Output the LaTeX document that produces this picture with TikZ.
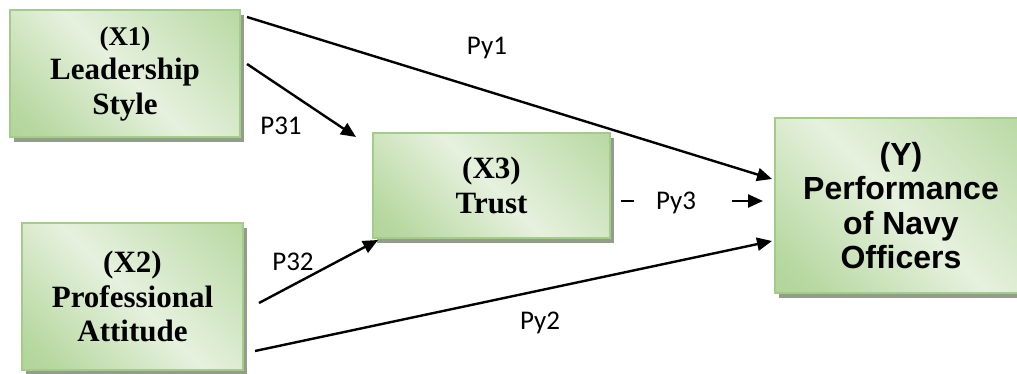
\documentclass[tikz,border=0pt]{standalone}
\usepackage{fontspec}
\usetikzlibrary{arrows.meta,calc,shadows}
\newfontfamily\boxserif{Liberation Serif}
\newfontfamily\boxsans{Liberation Sans}
\newfontfamily\pathfont{Carlito}
\definecolor{gdark}{HTML}{A4CE88}
\definecolor{glight}{HTML}{E6F1DE}
\definecolor{gborder}{HTML}{A2CC87}
\definecolor{gshadow}{HTML}{929D8B}
\pgfdeclarehorizontalshading{boxglow}{100bp}{color(0bp)=(gdark); color(22bp)=(gdark!70!glight); color(50bp)=(glight); color(78bp)=(gdark!55!glight); color(100bp)=(gdark)}
\tikzset{
  varbox/.style={draw=gborder, line width=2pt, shading=boxglow, shading angle=45,
    align=center, inner sep=0pt,
    general shadow={shadow xshift=4pt, shadow yshift=-5pt, fill=gshadow}},
  xlabel/.style={font=\boxserif\bfseries\fontsize{31}{34.5}\selectfont},
  ylabel/.style={font=\boxsans\bfseries\fontsize{32}{34.5}\selectfont},
  pathlbl/.style={font=\pathfont\fontsize{27}{30}\selectfont, inner sep=0pt},
  link/.style={line width=2.4pt, -{Triangle[length=15pt,width=13pt]}},
}
\begin{document}
\begin{tikzpicture}[x=1pt,y=-1pt]
\useasboundingbox (0,0) rectangle (1017,374);
\clip (0,0) rectangle (1017,374);

% variables
\node[varbox, xlabel, minimum width=230pt, minimum height=127pt] (X1) at (125,73.5)
  {{\fontsize{27}{30}\selectfont (X1)}\\Leadership\\Style};
\node[varbox, xlabel, minimum width=221pt, minimum height=147pt] (X2) at (132.5,296.5)
  {(X2)\\Professional\\Attitude};
\node[varbox, xlabel, minimum width=237pt, minimum height=105pt] (X3) at (491.5,185.5)
  {(X3)\\Trust};
\node[varbox, ylabel, minimum width=252pt, minimum height=175pt] (Y) at (901,205.5)
  {(Y)\\Performance\\of Navy\\Officers};

% paths
\draw[link] ($(X1.north east)+(6,8)$) -- ($(Y.north west)+(-2,62)$);
\draw[link] ($(X1.north east)+(6,55)$) -- ($(X3.north west)+(-16,5)$);
\draw[link] ($(X2.north east)+(15,81)$) -- ($(X3.south west)+(6,1)$);
\draw[link] ($(X2.south east)+(11,-20)$) -- ($(Y.south west)+(-2,-53)$);
\draw[line width=2.4pt] ($(X3.east)+(10,15.5)$) -- ($(X3.east)+(23,15.5)$);
\draw[link] ($(Y.west)+(-42,-4.5)$) -- ($(Y.west)+(-11,-4.5)$);

% path coefficients
\node[pathlbl] (py1) at (487,48) {Py1};
\node[pathlbl] (p31) at (281,126) {P31};
\node[pathlbl] (p32) at (293,262) {P32};
\node[pathlbl] (py2) at (540,323) {Py2};
\node[pathlbl] (py3) at (676,203) {Py3};
\end{tikzpicture}
\end{document}
